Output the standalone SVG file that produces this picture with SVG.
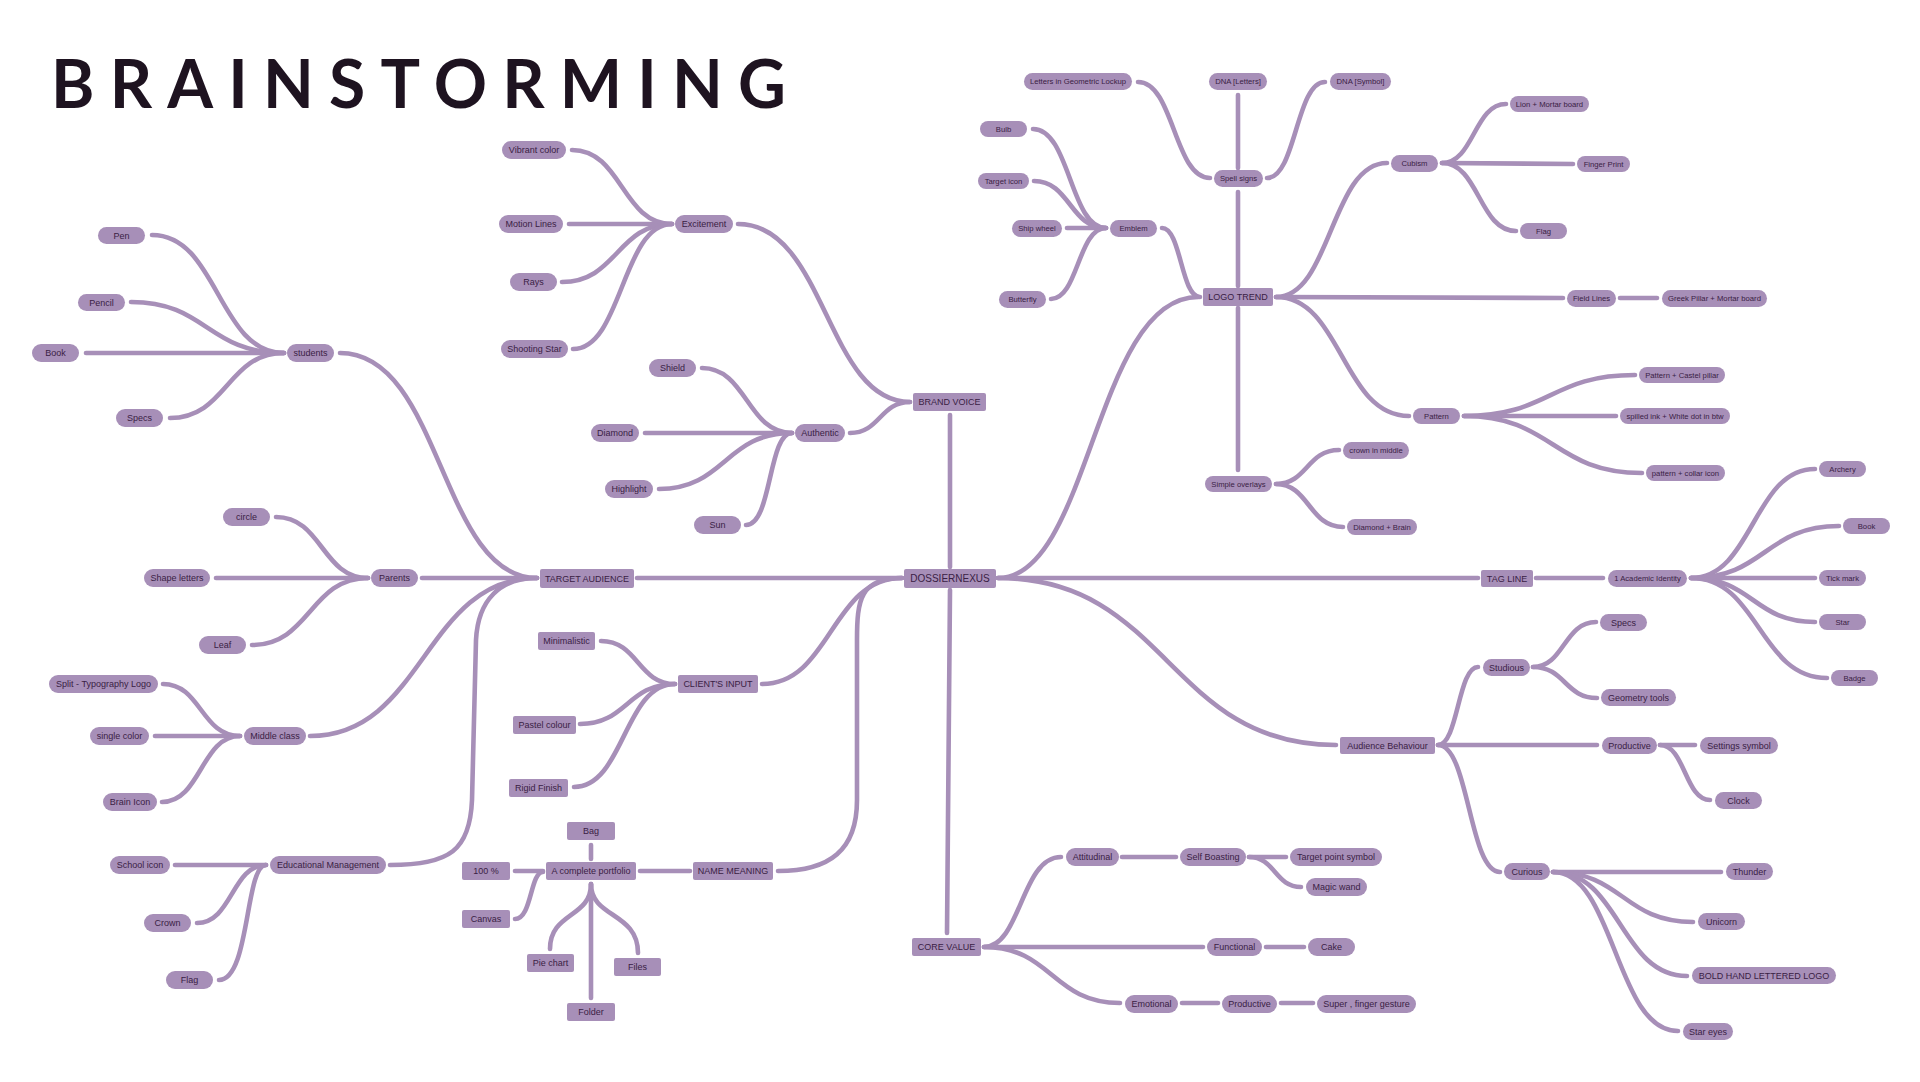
<svg xmlns="http://www.w3.org/2000/svg" width="1920" height="1082" viewBox="0 0 1920 1082">
<style>
.c path{fill:none;stroke:#a78fb8;stroke-width:4.6;stroke-linecap:round}
.n rect{fill:#a78fb8}
.n text{font-family:"Liberation Sans",Arial,sans-serif;font-size:9px;fill:#3a2144;text-anchor:middle;dominant-baseline:central}
.s text{font-size:7.7px}
.title{font-family:Lato,"Liberation Sans",sans-serif;font-weight:700;font-size:66px;fill:#1e1320}
</style>
<rect width="1920" height="1082" fill="#fff"/>
<text class="title" x="51" y="108" textLength="735" lengthAdjust="spacing">BRAINSTORMING</text>
<g id="connectors" class="c">
<path d="M340,353 C442,353 440,578 537,578"/>
<path d="M422,578 L537,578"/>
<path d="M310,736 C424,736 424,578 537,578"/>
<path d="M390,865 C450,865 470,850 472,800 L476,640 C478,600 500,578 537,578"/>
<path d="M152,235 C218,235 218,353 284,353"/>
<path d="M131,302 C207,302 207,353 284,353"/>
<path d="M86,353 L284,353"/>
<path d="M170,418 C227,418 227,353 284,353"/>
<path d="M276,517 C322,517 322,578 368,578"/>
<path d="M216,578 L368,578"/>
<path d="M252,645 C310,645 310,578 368,578"/>
<path d="M163,684 C201,684 201,736 240,736"/>
<path d="M155,736 L240,736"/>
<path d="M162,802 C201,802 201,736 240,736"/>
<path d="M175,865 L266,865"/>
<path d="M197,923 C232,923 232,865 266,865"/>
<path d="M219,980 C250,980 245,865 266,865"/>
<path d="M902,578 L637,578"/>
<path d="M950,567 L950,415"/>
<path d="M950,590 L947,933"/>
<path d="M902,578 C831,578 831,684 762,684"/>
<path d="M902,578 C860,578 857,600 857,640 L857,800 C857,850 830,871 778,871"/>
<path d="M998,578 C1090,578 1095,297 1198,297"/>
<path d="M998,578 L1478,578"/>
<path d="M998,578 C1168,578 1168,745 1336,745"/>
<path d="M738,224 C826,224 826,402 910,402"/>
<path d="M850,433 C880,433 880,402 910,402"/>
<path d="M572,150 C622,150 622,224 672,224"/>
<path d="M569,224 L672,224"/>
<path d="M562,282 C617,282 617,224 672,224"/>
<path d="M573,349 C622,349 622,224 672,224"/>
<path d="M702,368 C747,368 747,433 792,433"/>
<path d="M645,433 L792,433"/>
<path d="M659,489 C725,489 725,433 792,433"/>
<path d="M746,525 C772,525 768,433 792,433"/>
<path d="M601,641 C638,641 638,684 675,684"/>
<path d="M580,724 C627,724 627,684 675,684"/>
<path d="M574,787 C624,787 624,684 675,684"/>
<path d="M690,871 L640,871"/>
<path d="M591,859 L591,845"/>
<path d="M543,871 L515,871"/>
<path d="M543,872 C530,872 532,919 515,919"/>
<path d="M591,884 C591,918 550,912 550,949"/>
<path d="M591,884 L591,998"/>
<path d="M591,884 C591,918 638,912 638,953"/>
<path d="M984,947 C1021,947 1021,857 1061,857"/>
<path d="M984,947 L1203,947"/>
<path d="M984,947 C1052,947 1052,1003 1120,1003"/>
<path d="M1122,857 L1176,857"/>
<path d="M1249,857 L1286,857"/>
<path d="M1249,857 C1275,857 1275,887 1301,887"/>
<path d="M1266,947 L1304,947"/>
<path d="M1182,1003 L1218,1003"/>
<path d="M1281,1003 L1313,1003"/>
<path d="M1238,286 L1238,192"/>
<path d="M1238,168 L1238,95"/>
<path d="M1210,178 C1174,178 1174,82 1138,82"/>
<path d="M1267,178 C1296,178 1296,82 1325,82"/>
<path d="M1200,297 C1181,297 1181,228 1162,228"/>
<path d="M1033,129 C1070,129 1070,228 1106,228"/>
<path d="M1034,181 C1070,181 1070,228 1106,228"/>
<path d="M1067,228 L1106,228"/>
<path d="M1051,299 C1078,299 1078,228 1106,228"/>
<path d="M1276,297 C1331,297 1331,163 1387,163"/>
<path d="M1442,163 C1474,163 1474,104 1506,104"/>
<path d="M1442,163 L1573,164"/>
<path d="M1442,163 C1479,163 1479,231 1516,231"/>
<path d="M1276,297 L1563,298"/>
<path d="M1620,298 L1657,298"/>
<path d="M1276,297 C1342,297 1342,416 1409,416"/>
<path d="M1464,416 C1550,416 1550,375 1635,375"/>
<path d="M1464,416 L1616,416"/>
<path d="M1464,416 C1553,416 1553,473 1642,473"/>
<path d="M1238,308 L1238,470"/>
<path d="M1276,484 C1307,484 1307,450 1339,450"/>
<path d="M1276,484 C1309,484 1309,527 1343,527"/>
<path d="M1536,578 L1603,578"/>
<path d="M1691,578 C1753,578 1753,469 1815,469"/>
<path d="M1691,578 C1765,578 1765,526 1839,526"/>
<path d="M1691,578 L1815,578"/>
<path d="M1691,578 C1753,578 1753,622 1815,622"/>
<path d="M1691,578 C1759,578 1759,678 1827,678"/>
<path d="M1438,745 C1458,745 1458,667 1478,667"/>
<path d="M1438,745 L1597,745"/>
<path d="M1438,745 C1469,745 1469,872 1500,872"/>
<path d="M1533,667 C1564,667 1564,622 1596,622"/>
<path d="M1533,667 C1565,667 1565,698 1597,698"/>
<path d="M1660,745 L1695,745"/>
<path d="M1660,745 C1685,745 1685,800 1710,800"/>
<path d="M1553,872 L1721,872"/>
<path d="M1553,872 C1623,872 1623,922 1693,922"/>
<path d="M1553,872 C1620,872 1620,976 1687,976"/>
<path d="M1553,872 C1615,872 1615,1031 1678,1031"/>
</g>
<g class="n">
<g id="pen"><rect x="98" y="227" width="47" height="17" rx="8.5"/><text x="121.5" y="235.5">Pen</text></g>
<g id="pencil"><rect x="78" y="294" width="47" height="17" rx="8.5"/><text x="101.5" y="302.5">Pencil</text></g>
<g id="book"><rect x="32" y="344" width="47" height="18" rx="9"/><text x="55.5" y="353">Book</text></g>
<g id="specs"><rect x="116" y="409" width="47" height="18" rx="9"/><text x="139.5" y="418">Specs</text></g>
<g id="students"><rect x="287" y="344" width="47" height="18" rx="9"/><text x="310.5" y="353">students</text></g>
<g id="circle"><rect x="223" y="508" width="47" height="18" rx="9"/><text x="246.5" y="517">circle</text></g>
<g id="shape-letters"><rect x="144" y="569" width="66" height="18" rx="9"/><text x="177" y="578">Shape letters</text></g>
<g id="leaf"><rect x="199" y="636" width="47" height="18" rx="9"/><text x="222.5" y="645">Leaf</text></g>
<g id="parents"><rect x="371" y="569" width="47" height="18" rx="9"/><text x="394.5" y="578">Parents</text></g>
<g id="split"><rect x="49" y="675" width="109" height="18" rx="9"/><text x="103.5" y="684">Split - Typography Logo</text></g>
<g id="single-color"><rect x="90" y="727" width="59" height="18" rx="9"/><text x="119.5" y="736">single color</text></g>
<g id="middle-class"><rect x="244" y="727" width="62" height="18" rx="9"/><text x="275" y="736">Middle class</text></g>
<g id="brain-icon"><rect x="103" y="793" width="54" height="18" rx="9"/><text x="130" y="802">Brain Icon</text></g>
<g id="school-icon"><rect x="110" y="856" width="60" height="18" rx="9"/><text x="140" y="865">School icon</text></g>
<g id="edu-mgmt"><rect x="270" y="856" width="116" height="18" rx="9"/><text x="328" y="865">Educational Management</text></g>
<g id="crown"><rect x="144" y="914" width="47" height="18" rx="9"/><text x="167.5" y="923">Crown</text></g>
<g id="flag"><rect x="166" y="971" width="47" height="18" rx="9"/><text x="189.5" y="980">Flag</text></g>
<g id="target-audience"><rect x="540" y="569" width="94" height="19" rx="2"/><text x="587" y="578.5">TARGET AUDIENCE</text></g>
<g id="vibrant"><rect x="502" y="141" width="64" height="18" rx="9"/><text x="534" y="150">Vibrant color</text></g>
<g id="motion"><rect x="499" y="215" width="64" height="18" rx="9"/><text x="531" y="224">Motion Lines</text></g>
<g id="rays"><rect x="510" y="273" width="47" height="18" rx="9"/><text x="533.5" y="282">Rays</text></g>
<g id="shooting"><rect x="501" y="340" width="67" height="18" rx="9"/><text x="534.5" y="349">Shooting Star</text></g>
<g id="excitement"><rect x="675" y="215" width="58" height="18" rx="9"/><text x="704" y="224">Excitement</text></g>
<g id="shield"><rect x="649" y="359" width="47" height="18" rx="9"/><text x="672.5" y="368">Shield</text></g>
<g id="diamond"><rect x="591" y="424" width="48" height="18" rx="9"/><text x="615" y="433">Diamond</text></g>
<g id="authentic"><rect x="795" y="424" width="50" height="18" rx="9"/><text x="820" y="433">Authentic</text></g>
<g id="highlight"><rect x="605" y="480" width="48" height="18" rx="9"/><text x="629" y="489">Highlight</text></g>
<g id="sun"><rect x="694" y="516" width="47" height="18" rx="9"/><text x="717.5" y="525">Sun</text></g>
<g id="brand-voice"><rect x="913" y="393" width="73" height="18" rx="2"/><text x="949.5" y="402">BRAND VOICE</text></g>
<g id="minimalistic"><rect x="538" y="632" width="57" height="18" rx="2"/><text x="566.5" y="641">Minimalistic</text></g>
<g id="clients-input"><rect x="678" y="675" width="80" height="18" rx="2"/><text x="718" y="684">CLIENT'S INPUT</text></g>
<g id="pastel"><rect x="513" y="716" width="63" height="18" rx="2"/><text x="544.5" y="725">Pastel colour</text></g>
<g id="rigid"><rect x="509" y="779" width="59" height="18" rx="2"/><text x="538.5" y="788">Rigid Finish</text></g>
<g id="bag"><rect x="567" y="822" width="48" height="18" rx="2"/><text x="591" y="831">Bag</text></g>
<g id="hundred"><rect x="462" y="862" width="48" height="18" rx="2"/><text x="486" y="871">100 %</text></g>
<g id="portfolio"><rect x="546" y="862" width="90" height="18" rx="2"/><text x="591" y="871">A complete portfolio</text></g>
<g id="name-meaning"><rect x="693" y="862" width="80" height="18" rx="2"/><text x="733" y="871">NAME MEANING</text></g>
<g id="canvas"><rect x="462" y="910" width="48" height="18" rx="2"/><text x="486" y="919">Canvas</text></g>
<g id="pie-chart"><rect x="527" y="954" width="47" height="18" rx="2"/><text x="550.5" y="963">Pie chart</text></g>
<g id="files"><rect x="614" y="958" width="47" height="18" rx="2"/><text x="637.5" y="967">Files</text></g>
<g id="folder"><rect x="567" y="1003" width="48" height="18" rx="2"/><text x="591" y="1012">Folder</text></g>
<g id="dossiernexus"><rect x="904" y="569" width="92" height="19" rx="2"/><text x="950" y="578.5" style="font-size:10px">DOSSIERNEXUS</text></g>
<g id="core-value"><rect x="912" y="938" width="69" height="18" rx="2"/><text x="946.5" y="947">CORE VALUE</text></g>
<g id="attitudinal"><rect x="1066" y="848" width="53" height="18" rx="9"/><text x="1092.5" y="857">Attitudinal</text></g>
<g id="self-boasting"><rect x="1180" y="848" width="66" height="18" rx="9"/><text x="1213" y="857">Self Boasting</text></g>
<g id="target-point"><rect x="1290" y="848" width="92" height="18" rx="9"/><text x="1336" y="857">Target point symbol</text></g>
<g id="magic-wand"><rect x="1306" y="878" width="61" height="18" rx="9"/><text x="1336.5" y="887">Magic wand</text></g>
<g id="functional"><rect x="1207" y="938" width="55" height="18" rx="9"/><text x="1234.5" y="947">Functional</text></g>
<g id="cake"><rect x="1308" y="938" width="47" height="18" rx="9"/><text x="1331.5" y="947">Cake</text></g>
<g id="emotional"><rect x="1125" y="995" width="53" height="18" rx="9"/><text x="1151.5" y="1004">Emotional</text></g>
<g id="productive-cv"><rect x="1222" y="995" width="55" height="18" rx="9"/><text x="1249.5" y="1004">Productive</text></g>
<g id="super"><rect x="1317" y="995" width="99" height="18" rx="9"/><text x="1366.5" y="1004">Super , finger gesture</text></g>
<g class="s">
<g id="lockup"><rect x="1024" y="73" width="108" height="17" rx="8.5"/><text x="1078" y="81.5">Letters in Geometric Lockup</text></g>
<g id="dna-letters"><rect x="1209" y="73" width="58" height="17" rx="8.5"/><text x="1238" y="81.5">DNA [Letters]</text></g>
<g id="dna-symbol"><rect x="1330" y="73" width="61" height="17" rx="8.5"/><text x="1360.5" y="81.5">DNA [Symbol]</text></g>
<g id="bulb"><rect x="980" y="121" width="47" height="16" rx="8"/><text x="1003.5" y="129">Bulb</text></g>
<g id="spell-signs"><rect x="1214" y="170" width="49" height="17" rx="8.5"/><text x="1238.5" y="178.5">Spell signs</text></g>
<g id="cubism"><rect x="1391" y="155" width="47" height="17" rx="8.5"/><text x="1414.5" y="163.5">Cubism</text></g>
<g id="target-icon"><rect x="978" y="173" width="51" height="16" rx="8"/><text x="1003.5" y="181">Target icon</text></g>
<g id="ship-wheel"><rect x="1012" y="220" width="50" height="17" rx="8.5"/><text x="1037" y="228.5">Ship wheel</text></g>
<g id="emblem"><rect x="1110" y="220" width="47" height="17" rx="8.5"/><text x="1133.5" y="228.5">Emblem</text></g>
<g id="butterfly"><rect x="999" y="291" width="47" height="17" rx="8.5"/><text x="1022.5" y="299.5">Butterfly</text></g>
<g id="lion"><rect x="1510" y="96" width="79" height="16" rx="8"/><text x="1549.5" y="104">Lion + Mortar board</text></g>
<g id="finger-print"><rect x="1577" y="156" width="53" height="16" rx="8"/><text x="1603.5" y="164">Finger Print</text></g>
<g id="flag-cubism"><rect x="1520" y="223" width="47" height="16" rx="8"/><text x="1543.5" y="231">Flag</text></g>
<g id="field-lines"><rect x="1567" y="290" width="49" height="17" rx="8.5"/><text x="1591.5" y="298.5">Field Lines</text></g>
<g id="greek"><rect x="1662" y="290" width="105" height="17" rx="8.5"/><text x="1714.5" y="298.5">Greek Pillar + Mortar board</text></g>
<g id="pattern"><rect x="1413" y="408" width="47" height="16" rx="8"/><text x="1436.5" y="416">Pattern</text></g>
<g id="castel"><rect x="1639" y="367" width="86" height="16" rx="8"/><text x="1682" y="375">Pattern + Castel pillar</text></g>
<g id="spilled"><rect x="1620" y="408" width="110" height="16" rx="8"/><text x="1675" y="416">spilled ink + White dot in btw</text></g>
<g id="crown-middle"><rect x="1343" y="442" width="66" height="17" rx="8.5"/><text x="1376" y="450.5">crown in middle</text></g>
<g id="simple-overlays"><rect x="1205" y="476" width="67" height="16" rx="8"/><text x="1238.5" y="484">Simple overlays</text></g>
<g id="diamond-brain"><rect x="1347" y="519" width="70" height="16" rx="8"/><text x="1382" y="527">Diamond + Brain</text></g>
<g id="collar"><rect x="1646" y="465" width="79" height="16" rx="8"/><text x="1685.5" y="473">pattern + collar icon</text></g>
<g id="archery"><rect x="1819" y="461" width="47" height="16" rx="8"/><text x="1842.5" y="469">Archery</text></g>
<g id="book-tag"><rect x="1843" y="518" width="47" height="16" rx="8"/><text x="1866.5" y="526">Book</text></g>
<g id="academic"><rect x="1608" y="570" width="79" height="17" rx="8.5"/><text x="1647.5" y="578.5">1 Academic Identity</text></g>
<g id="tick"><rect x="1819" y="570" width="47" height="16" rx="8"/><text x="1842.5" y="578">Tick mark</text></g>
<g id="star"><rect x="1819" y="614" width="47" height="16" rx="8"/><text x="1842.5" y="622">Star</text></g>
<g id="badge"><rect x="1831" y="670" width="47" height="16" rx="8"/><text x="1854.5" y="678">Badge</text></g>
</g>
<g id="logo-trend"><rect x="1203" y="288" width="70" height="18" rx="2"/><text x="1238" y="297">LOGO TREND</text></g>
<g id="tag-line"><rect x="1481" y="570" width="52" height="17" rx="2"/><text x="1507" y="578.5">TAG LINE</text></g>
<g id="specs-studious"><rect x="1600" y="614" width="47" height="17" rx="8.5"/><text x="1623.5" y="622.5">Specs</text></g>
<g id="studious"><rect x="1483" y="659" width="47" height="17" rx="8.5"/><text x="1506.5" y="667.5">Studious</text></g>
<g id="geometry"><rect x="1601" y="689" width="75" height="17" rx="8.5"/><text x="1638.5" y="697.5">Geometry tools</text></g>
<g id="audience-behaviour"><rect x="1340" y="737" width="95" height="17" rx="2"/><text x="1387.5" y="745.5">Audience Behaviour</text></g>
<g id="productive-ab"><rect x="1602" y="737" width="55" height="17" rx="8.5"/><text x="1629.5" y="745.5">Productive</text></g>
<g id="settings"><rect x="1700" y="737" width="78" height="17" rx="8.5"/><text x="1739" y="745.5">Settings symbol</text></g>
<g id="clock"><rect x="1715" y="792" width="47" height="17" rx="8.5"/><text x="1738.5" y="800.5">Clock</text></g>
<g id="curious"><rect x="1504" y="863" width="46" height="17" rx="8.5"/><text x="1527" y="871.5">Curious</text></g>
<g id="thunder"><rect x="1726" y="863" width="47" height="17" rx="8.5"/><text x="1749.5" y="871.5">Thunder</text></g>
<g id="unicorn"><rect x="1698" y="913" width="47" height="17" rx="8.5"/><text x="1721.5" y="921.5">Unicorn</text></g>
<g id="bold-logo"><rect x="1692" y="967" width="144" height="17" rx="8.5"/><text x="1764" y="975.5">BOLD HAND LETTERED LOGO</text></g>
<g id="star-eyes"><rect x="1683" y="1023" width="50" height="17" rx="8.5"/><text x="1708" y="1031.5">Star eyes</text></g>
</g>
</svg>
